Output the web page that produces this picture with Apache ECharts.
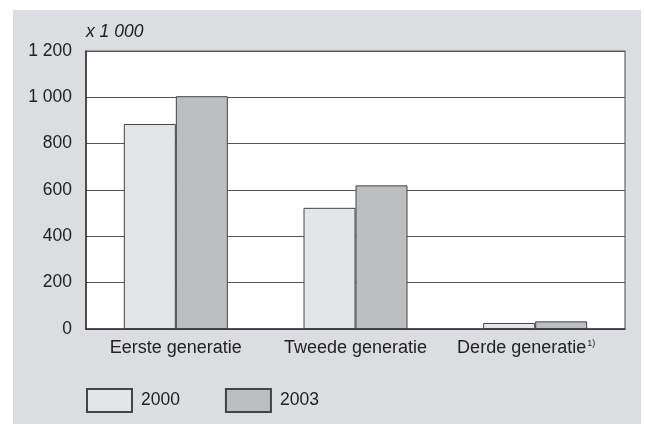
<!DOCTYPE html>
<html lang="nl">
<head>
<meta charset="UTF-8">
<title>Generaties</title>
<script src="https://cdn.jsdelivr.net/npm/echarts@6/dist/echarts.min.js"></script>
</head>
<body style="margin:0;background:#fff;">
<div id="chart" style="width:645px;height:424px;"></div>
<script>
// categorieën en waarden (x 1 000)
var categories = ['Eerste generatie', 'Tweede generatie', 'Derde generatie'];
var years = ['2000', '2003'];
var values2000 = [885, 523, 26];
var values2003 = [1005, 620, 33];

var chart = echarts.init(document.getElementById('chart'));

function fmt(v) {
    return String(v).replace(/\B(?=(\d{3})+(?!\d))/g, ' ');
}

var option = {
    animation: false,
    textStyle: { fontFamily: 'Liberation Sans, Arial, sans-serif' },
    graphic: [
        // grijze achtergrond
        { type: 'rect', z: -10, shape: { x: 13, y: 10, width: 628, height: 414 }, style: { fill: '#dcdde0' } },
        { type: 'text', left: 86, top: 23, style: { text: 'x 1 000', font: 'italic 17.5px Liberation Sans, Arial', fill: '#222' } }
    ],
    grid: { left: 86, top: 51, right: 20, bottom: 95, show: true, backgroundColor: '#fff', borderWidth: 1.2, borderColor: '#666' },
    legend: {
        left: 86, top: 388, padding: 0,
        itemWidth: 45, itemHeight: 23, itemGap: 45,
        icon: 'rect',
        textStyle: { fontSize: 17.5, color: '#222', padding: [0, 0, 0, 4] },
        data: years
    },
    xAxis: {
        type: 'category',
        data: categories,
        axisLine: { show: true, lineStyle: { color: '#333', width: 1.5 } },
        axisTick: { show: false },
        axisLabel: {
            interval: 0,
            fontSize: 18, color: '#222', margin: 10,
            formatter: function (v) {
                return v === 'Derde generatie' ? v + '{sup|1)}' : v;
            },
            rich: { sup: { fontSize: 9, verticalAlign: 'top', padding: [0, 18, 10, 1], color: '#222' } }
        }
    },
    yAxis: {
        type: 'value',
        min: 0, max: 1200, interval: 200,
        axisLine: { show: true, lineStyle: { color: '#333', width: 1.5 } },
        axisTick: { show: false },
        axisLabel: { fontSize: 17.5, color: '#222', margin: 14, formatter: fmt },
        splitLine: { lineStyle: { color: '#555', width: 1.2 } }
    },
    series: [
        {
            name: years[0], type: 'bar', data: values2000,
            barWidth: 52, barGap: '0%',
            itemStyle: { color: '#e4e5e6', borderColor: '#444', borderWidth: 1 }
        },
        {
            name: years[1], type: 'bar', data: values2003,
            barWidth: 52, barGap: '0%',
            itemStyle: { color: '#bdbec0', borderColor: '#444', borderWidth: 1 }
        }
    ]
};

chart.setOption(option);
</script>
</body>
</html>
